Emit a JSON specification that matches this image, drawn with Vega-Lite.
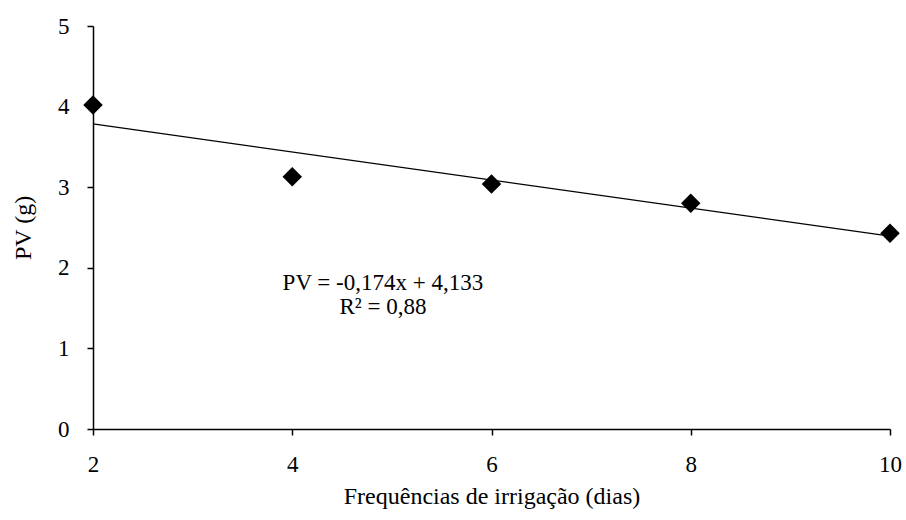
{
  "$schema": "https://vega.github.io/schema/vega-lite/v6.json",
  "width": 797,
  "height": 403,
  "autosize": "none",
  "padding": {"left": 93, "top": 26, "right": 16, "bottom": 91},
  "background": "white",
  "config": {
    "view": {"stroke": null},
    "font": "Liberation Serif",
    "axis": {
      "grid": false,
      "domainColor": "black",
      "domainWidth": 1.5,
      "tickColor": "black",
      "tickWidth": 1.5,
      "tickSize": 6,
      "labelFont": "Liberation Serif",
      "labelFontSize": 23,
      "labelColor": "black",
      "titleFont": "Liberation Serif",
      "titleFontSize": 24,
      "titleFontWeight": "normal",
      "titleColor": "black"
    }
  },
  "datasets": {
    "observed": [
      {"freq": 2, "pv": 4.02},
      {"freq": 4, "pv": 3.13},
      {"freq": 6, "pv": 3.04},
      {"freq": 8, "pv": 2.8},
      {"freq": 10, "pv": 2.43}
    ],
    "fit": [
      {"freq": 2, "pv": 3.785},
      {"freq": 10, "pv": 2.393}
    ],
    "equation": [
      {"freq": 4.91, "pv": 1.72, "label": "PV = -0,174x + 4,133"},
      {"freq": 4.91, "pv": 1.43, "label": "R² = 0,88"}
    ]
  },
  "encoding": {
    "x": {
      "field": "freq",
      "type": "quantitative",
      "scale": {"domain": [2, 10], "nice": false, "zero": false},
      "axis": {"values": [2, 4, 6, 8, 10], "title": "Frequências de irrigação (dias)", "labelPadding": 18, "titlePadding": 8, "labelFlush": false}
    },
    "y": {
      "field": "pv",
      "type": "quantitative",
      "scale": {"domain": [0, 5], "nice": false},
      "axis": {"values": [0, 1, 2, 3, 4, 5], "title": "PV (g)", "labelPadding": 18, "titlePadding": 22}
    }
  },
  "layer": [
    {
      "data": {"name": "fit"},
      "mark": {"type": "line", "color": "black", "strokeWidth": 1.2}
    },
    {
      "data": {"name": "observed"},
      "mark": {"type": "point", "shape": "diamond", "filled": true, "color": "black", "opacity": 1, "size": 380}
    },
    {
      "data": {"name": "equation"},
      "mark": {"type": "text", "font": "Liberation Serif", "fontSize": 23, "color": "black", "align": "center", "baseline": "alphabetic"},
      "encoding": {"text": {"field": "label"}}
    }
  ]
}
